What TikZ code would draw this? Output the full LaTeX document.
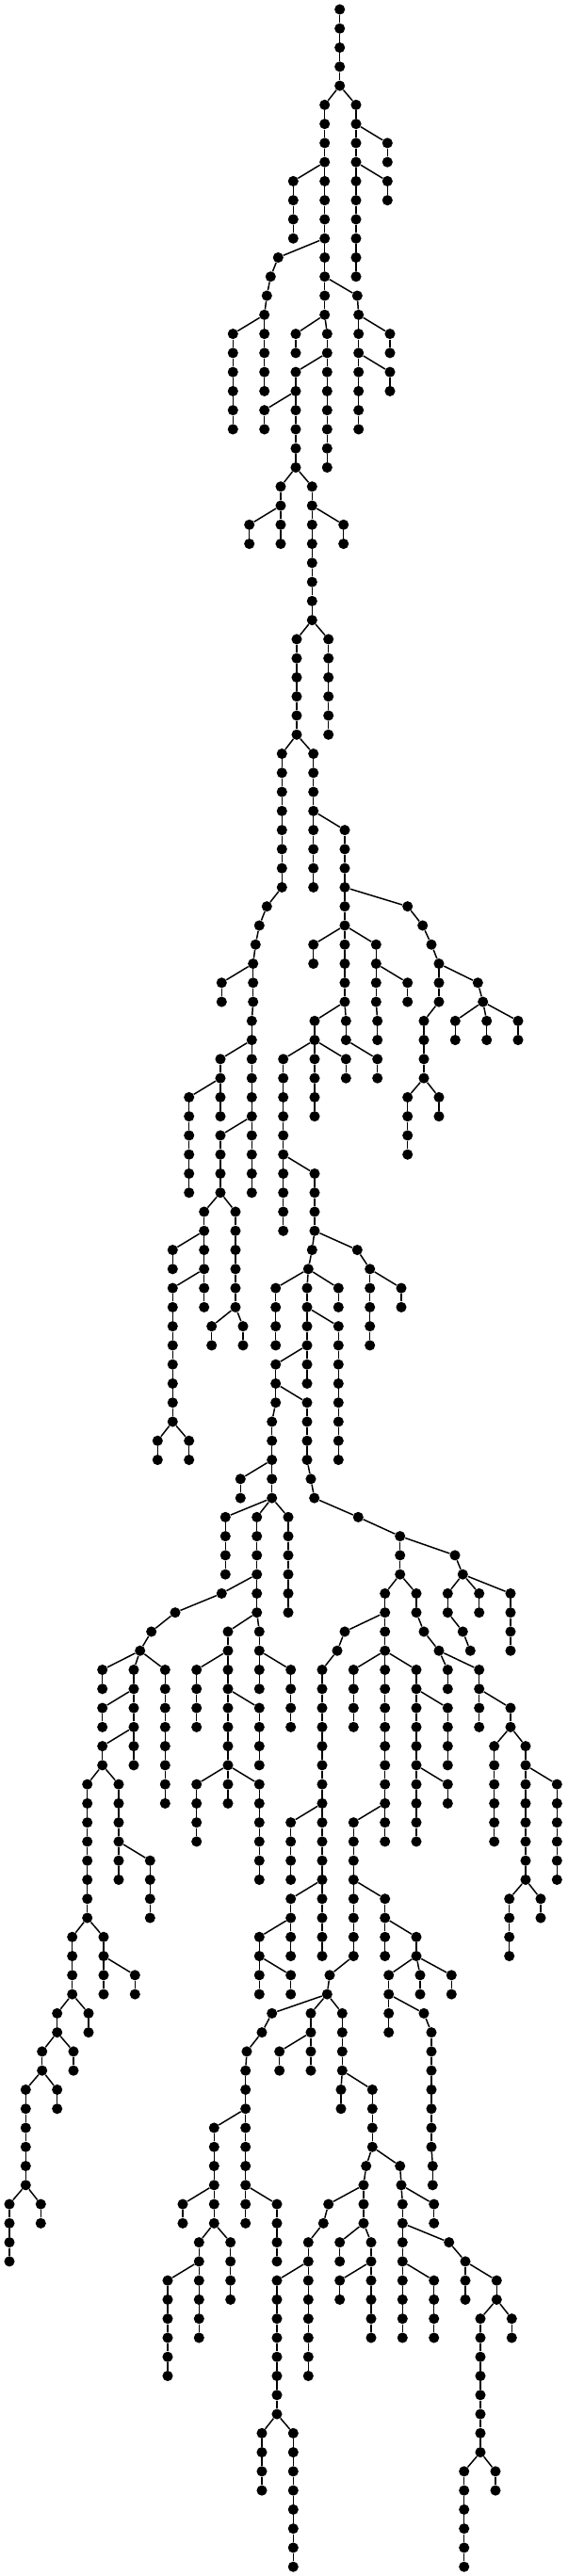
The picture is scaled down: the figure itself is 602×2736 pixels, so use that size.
\documentclass[tikz,border=0pt]{standalone}
\usepackage{tikz}

\begin{document}
\begin{tikzpicture}[
	x=0.02cm,
	y=-0.02cm,
	vertex/.style={circle,fill=black,inner sep=0pt,minimum size=0.222cm},
	branch/.style={draw=black,line width=0.85pt}
]
\useasboundingbox (0,0) rectangle (602,2736);
\node[vertex] (a0) at (360.7,10) {};
% chain / parent / x / first level / last level
\foreach \nm/\up/\px/\lv/\last in {
	a/a0/360.7/1/4, b/a4/344.7/5/16, c/a4/378/5/14, d/c6/411.3/7/8, e/c8/411.3/9/10,
	f/b8/311.3/9/12, g/b12/295.3/13/13, h/g13/287.3/14/14, i/h14/283.3/15/15, j/i15/280.7/16/20,
	k/j16/247.3/17/22, l/b14/379.3/15/15, m/l15/380.7/16/22, n/m16/414/17/18, o/m18/414/19/20,
	p/b16/314/17/18, q/b16/347.3/17/24, r/q18/314/19/24, s/r20/280.7/21/22, t/r24/298/25/28,
	u/r24/331.3/25/32, v/t26/264.7/27/28, w/u26/364.7/27/28, x/u32/315/33/38, y/u32/348.7/33/38,
	z/x38/299.3/39/46, aa/x38/332.7/39/46, ab/aa42/366/43/48,
	ac/z46/283.3/47/47, ad/ac47/275.3/48/48, ae/ad48/271.3/49/49, af/ae49/268.7/50/52,
	ag/af50/235.3/51/52, ah/af52/267.3/53/62, ai/ah54/234/55/58, aj/ai56/200.7/57/62,
	ak/ah58/234/59/62, al/ak62/216.7/63/68, am/ak62/250/63/68, an/al64/183.3/65/66,
	ao/al66/183.3/67/74, ap/ao74/167.3/75/76, aq/ao74/200.7/75/76, ar/am68/224.7/69/70,
	as/am68/258/69/70,
	at/ab46/432.7/47/47, au/at47/448.7/48/48, av/au48/458/49/49, aw/av49/466/50/52,
	ax/aw50/507.3/51/51, ay/ax51/512.7/52/52, az/ay52/483.3/53/54, ba/ay52/516.7/53/54,
	bb/ay52/550/53/54, bc/aw52/450/53/56, bd/bc56/432.7/57/60, be/bc56/466/57/58,
	bf/ab48/332.7/49/50, bg/ab48/366/49/52, bh/ab48/399.3/49/52, bi/bh52/400.7/53/54,
	bj/bh50/432.7/51/52, bk/bg52/334/53/58, bl/bg52/367.3/53/54, bm/bl54/400.7/55/56,
	bn/bk54/300.7/55/64, bo/bk54/367.3/55/56, bp/bn60/334/61/64, bq/bp64/331.3/65/65,
	br/bq65/327.3/66/66, bs/br66/292.7/67/70, bt/br66/326/67/72, bu/br66/359.3/67/68,
	bv/bt68/359.3/69/76, bw/bt70/292.7/71/73, bx/bw72/326/73/76, by/bw73/288.7/74/78,
	bz/by76/255.3/77/78, ca/bx76/330/77/77, cb/ca77/333.7/78/78, cc/bp64/379.3/65/65,
	cd/cc65/392.7/66/70, ce/cd66/426/67/68,
	cf/by78/239.3/79/82, cg/by78/272.7/79/84, ch/by78/306/79/84, ci/cg82/235.3/83/83,
	cj/ci83/186/84/84, ck/cj84/160.7/85/85, cl/ck85/148.7/86/86, cm/cl86/108.7/87/88,
	cn/cl86/142/87/92, co/cl86/175.3/87/94, cp/cn88/108.7/89/90, cq/cn90/108.7/91/92,
	cr/cq92/92.7/93/100, cs/cq92/126/93/98, ct/cs96/159.3/97/100, cu/cr100/76.7/101/104,
	cv/cr100/110/101/104, cw/cv102/143.3/103/104, cx/cu104/60.7/105/106, cy/cu104/94/105/106,
	cz/cx106/44.7/107/108, da/cx106/78/107/108, db/cz108/27.3/109/114, dc/cz108/60.7/109/110,
	dd/db114/10/115/118, de/db114/43.3/115/116,
	df/cg84/242/85/92, dg/cg84/275.3/85/88, dh/dg86/308.7/87/90, di/df86/208.7/87/90,
	dj/df88/275.3/89/92, dk/df92/208.7/93/96, dl/df92/242/93/94, dm/df92/275.3/93/98,
	do/cb78/380.3/79/79, dp/do79/424.7/80/82, dq/dp80/483/81/81, dr/dq81/491.3/82/82,
	ds/dr82/475.3/83/84, dt/dr82/508.7/83/84, du/dr82/542/83/86, dv/ds84/491.3/85/85,
	dw/dv85/499.3/86/86, dx/dp82/408.7/83/86, dy/dp82/442/83/84, dz/dy84/450/85/85,
	ea/dz85/466/86/86, eb/ea86/475.3/87/88, ec/ea86/508.7/87/90, ed/ec88/542/89/90,
	ee/ed90/524.7/91/96, ef/ed90/558/91/98, eg/ef92/591.3/93/98, eh/ef98/540.7/99/102,
	ei/ef98/574/99/100,
	ej/dx84/366/85/85, ek/ej85/358/86/86, el/ek86/342/87/102, em/el94/308.7/95/98,
	en/el98/308.7/99/102, eo/en100/275.3/101/104, ep/eo102/308.7/103/104,
	eq/dx86/375.3/87/90, er/dx86/408.7/87/96, es/dx86/442/87/96, et/es88/475.3/89/92,
	eu/es92/475.3/93/94, ev/er94/375.3/95/102, ew/ev98/408.7/99/102, ex/ew100/442/101/102,
	ey/ex102/412.7/103/106, ez/ex102/446/103/104, fa/ex102/479.3/103/104, fb/ey104/450/105/105,
	fc/fb105/458/106/112, fd/fc112/459.3/113/114, fe/ev102/350/103/103, ff/fe103/347.3/104/104,
	fg/ff104/288.7/105/105, fh/fg105/278/106/106, fi/fh106/262/107/107, fj/fi107/260.7/108/116,
	fk/ff104/330/105/108, fl/fk106/296.7/107/108, fm/ff104/363.3/105/108, fn/fm108/362/109/110,
	fo/fm108/395.3/109/112, fp/fo112/388.7/113/113, fq/fp113/386/114/116, fr/fo112/424.7/113/113,
	fs/fr113/426/114/114, ft/fs114/427.3/115/122, fu/fs114/460.7/115/116, fv/ft116/476.7/117/117,
	fw/fv117/494/118/120, fx/fw118/527.3/119/120, fy/fx120/510/121/128, fz/fx120/543.3/121/122,
	ga/fy128/492.7/129/134, gb/fy128/526/129/130, gc/ft118/460.7/119/122,
	gd/fj110/227.3/111/116, ge/fj114/294/115/118, gf/gd114/194/115/116, gg/gd116/211.3/117/122,
	gh/gd116/244.7/117/120, gi/gg118/178/119/124, gj/fq114/348.7/115/115, gk/gj115/343.3/116/116,
	gl/gk116/327.3/117/124, gm/gl118/294/119/126, gn/gm126/278/127/130, go/gm126/311.3/127/134,
	gp/fq116/360.7/117/118, gq/fq116/394/117/122, gr/gq118/360.7/119/120%
}{
	\foreach \k in {\lv,...,\last}{
		\node[vertex] (\nm\k) at (\px,{10+20.27*\k}) {};
		\pgfmathtruncatemacro\prev{\k-1}
		\ifnum\k=\lv
			\draw[branch] (\up) -- (\nm\k);
		\else
			\draw[branch] (\nm\prev) -- (\nm\k);
		\fi
	}
}
\end{tikzpicture}
\end{document}
